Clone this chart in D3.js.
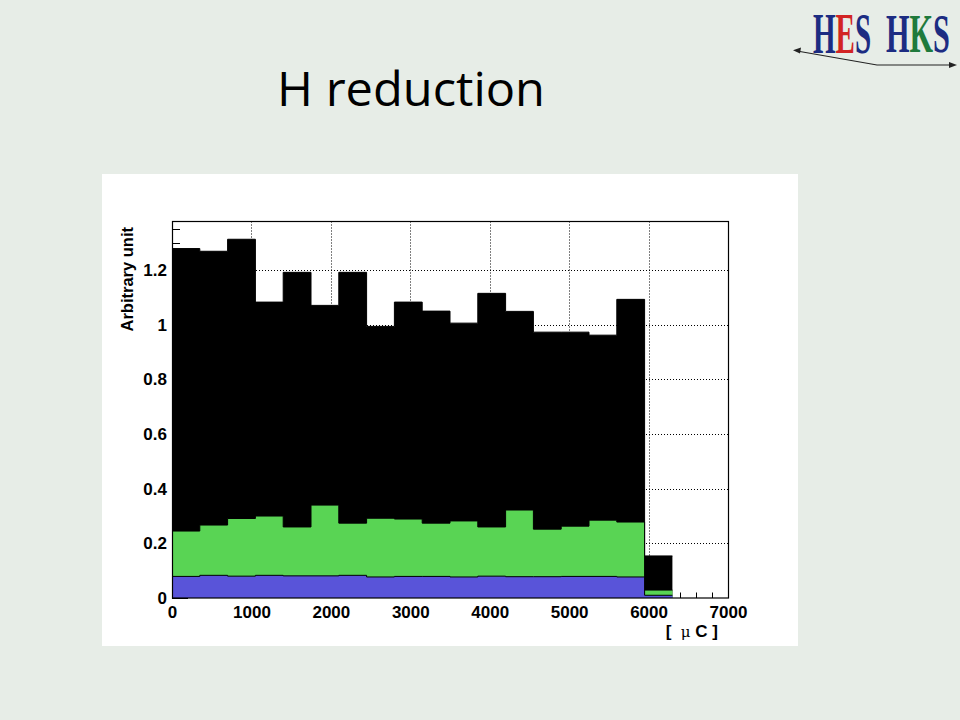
<!DOCTYPE html>
<html><head><meta charset="utf-8">
<script src="https://cdn.jsdelivr.net/npm/d3@7"></script>
<style>body{margin:0;background:#e7ede7}svg{display:block}</style>
</head><body><svg id="c" width="960" height="720"></svg>
<script>
// ---- data ----
const binStarts = [0,350,700,1050,1400,1750,2100,2450,2800,3150,3500,3850,4200,4550,4900,5250,5600,5950];
const binWidth = 350;
const totalValues = [1.279,1.269,1.313,1.083,1.192,1.071,1.192,0.994,1.083,1.050,1.006,1.115,1.049,0.973,0.973,0.962,1.093,0.154];
const greenValues = [0.245,0.267,0.291,0.300,0.260,0.340,0.274,0.292,0.289,0.274,0.282,0.260,0.322,0.252,0.263,0.285,0.278,0.029];
const blueValues  = [0.079,0.083,0.080,0.083,0.081,0.081,0.083,0.077,0.079,0.079,0.077,0.080,0.078,0.078,0.079,0.079,0.077,0.010];
const xTicks = [0,1000,2000,3000,4000,5000,6000,7000];
const xMinorTicks = [200,400,600,800,1200,1400,1600,1800,2200,2400,2600,2800,3200,3400,3600,3800,4200,4400,4600,4800,5200,5400,5600,5800,6200,6400,6600,6800];
const yTicks = [0,0.2,0.4,0.6,0.8,1,1.2];
const yMinorTicks = [0.05,0.1,0.15,0.25,0.3,0.35,0.45,0.5,0.55,0.65,0.7,0.75,0.85,0.9,0.95,1.05,1.1,1.15,1.25,1.3,1.35];
const titleText = "H reduction";
const yLabel = "Arbitrary unit";

// ---- drawing ----
const svg = d3.select("#c");
svg.append("rect").attr("width",960).attr("height",720).attr("fill","#e7ede7");
svg.append("rect").attr("x",102).attr("y",174).attr("width",696).attr("height",472).attr("fill","#fff");

// title
svg.append("text").attr("x",277).attr("y",106)
  .attr("font-family","'Open Sans', sans-serif").attr("font-size",47)
  .attr("textLength",268).attr("lengthAdjust","spacingAndGlyphs")
  .attr("fill","#000").text(titleText);

// logo
const logo = svg.append("g");
const g1 = logo.append("g").attr("transform","translate(813,53) scale(0.51,1)");
g1.append("text").attr("font-family","'Liberation Serif', serif").attr("font-weight","bold").attr("font-size",57)
  .selectAll("tspan").data([["H","#1c2c82"],["E","#d22424"],["S","#1c2c82"]]).join("tspan")
  .attr("fill",d=>d[1]).text(d=>d[0]);
const g2 = logo.append("g").attr("transform","translate(886,52) scale(0.56,1)");
g2.append("text").attr("font-family","'Liberation Serif', serif").attr("font-weight","bold").attr("font-size",54)
  .selectAll("tspan").data([["H","#1c2c82"],["K","#1f7a3c"],["S","#1c2c82"]]).join("tspan")
  .attr("fill",d=>d[1]).text(d=>d[0]);
logo.append("path").attr("d","M797,51 L877,65 L951,65").attr("fill","none").attr("stroke","#222").attr("stroke-width",1.2);
logo.append("path").attr("d","M793,50.3 L801,47.5 L800,53.5 Z").attr("fill","#222");
logo.append("path").attr("d","M957,65 L949,62 L949,68 Z").attr("fill","#222");

const L=172, R=728, T=221.5, B=598;
const x = d3.scaleLinear().domain([0,7000]).range([L,R]);
const y = d3.scaleLinear().domain([0,1.378]).range([B,T]);

// grid (under bars)
const grid = svg.append("g").attr("stroke","#000").attr("stroke-width",1).attr("stroke-dasharray","1,2");
grid.selectAll("line.gx").data(xTicks.filter(d=>d>0&&d<7000)).join("line")
  .attr("x1",d=>Math.round(x(d))+0.5).attr("x2",d=>Math.round(x(d))+0.5).attr("y1",T).attr("y2",B);
grid.selectAll("line.gy").data(yTicks.filter(d=>d>0)).join("line")
  .attr("y1",d=>Math.round(y(d))+0.5).attr("y2",d=>Math.round(y(d))+0.5).attr("x1",L).attr("x2",R);

// inner ticks
const tk = svg.append("g").attr("stroke","#000").attr("stroke-width",1);
tk.selectAll("line.ym").data(yTicks).join("line")
  .attr("x1",L).attr("x2",L+16).attr("y1",d=>Math.round(y(d))+0.5).attr("y2",d=>Math.round(y(d))+0.5);
tk.selectAll("line.yn").data(yMinorTicks).join("line")
  .attr("x1",L).attr("x2",L+8).attr("y1",d=>Math.round(y(d))+0.5).attr("y2",d=>Math.round(y(d))+0.5);
tk.selectAll("line.xm").data(xTicks).join("line")
  .attr("y1",B).attr("y2",B-11).attr("x1",d=>Math.round(x(d))+0.5).attr("x2",d=>Math.round(x(d))+0.5);
tk.selectAll("line.xn").data(xMinorTicks).join("line")
  .attr("y1",B).attr("y2",B-5.5).attr("x1",d=>Math.round(x(d))+0.5).attr("x2",d=>Math.round(x(d))+0.5);

// histograms
function histo(vals, fill){
  const pts = binStarts.map((s,i)=>[s, vals[i]]);
  pts.push([binStarts[binStarts.length-1]+binWidth, vals[vals.length-1]]);
  const area = d3.area().curve(d3.curveStepAfter).x(d=>x(d[0])).y0(y(0)).y1(d=>y(d[1]));
  svg.append("path").attr("d",area(pts)).attr("fill",fill).attr("stroke","none");
  const line = d3.line().curve(d3.curveStepAfter).x(d=>x(d[0])).y(d=>y(d[1]));
  svg.append("path").attr("d",line(pts)).attr("fill","none").attr("stroke","#000").attr("stroke-width",1);
}
histo(totalValues,"#000");
histo(greenValues,"#59d454");
histo(blueValues,"#5954d9");

// frame
svg.append("rect").attr("x",L+0.5).attr("y",T).attr("width",R-L).attr("height",B-T)
  .attr("fill","none").attr("stroke","#000").attr("stroke-width",1.2);

// axis labels via d3 axes
const fontAx = "'Liberation Sans', Arial, sans-serif";
const xa = svg.append("g").attr("transform",`translate(0,${B})`)
  .call(d3.axisBottom(x).tickValues(xTicks).tickSize(0).tickPadding(8).tickFormat(d3.format("d")));
xa.select(".domain").remove();
xa.selectAll("text").attr("font-family",fontAx).attr("font-weight","bold").attr("font-size",17).attr("fill","#000");
const ya = svg.append("g").attr("transform",`translate(${L},0)`)
  .call(d3.axisLeft(y).tickValues(yTicks).tickSize(0).tickPadding(5).tickFormat(d=>String(d)));
ya.select(".domain").remove();
ya.selectAll("text").attr("font-family",fontAx).attr("font-weight","bold").attr("font-size",17).attr("fill","#000");

// axis titles
svg.append("text").attr("transform","translate(133,227) rotate(-90)").attr("text-anchor","end")
  .attr("font-family",fontAx).attr("font-weight","bold").attr("font-size",16.5).attr("fill","#000").text(yLabel);
const xt = svg.append("text").attr("x",718).attr("y",637).attr("text-anchor","end")
  .style("white-space","pre")
  .attr("font-family",fontAx).attr("font-weight","bold").attr("font-size",17).attr("fill","#000");
xt.append("tspan").text("[  ");
xt.append("tspan").attr("font-weight","normal").attr("font-family","'DejaVu Serif', serif").attr("font-size",15).text("μ");
xt.append("tspan").text(" C ]");
</script>
</body></html>
